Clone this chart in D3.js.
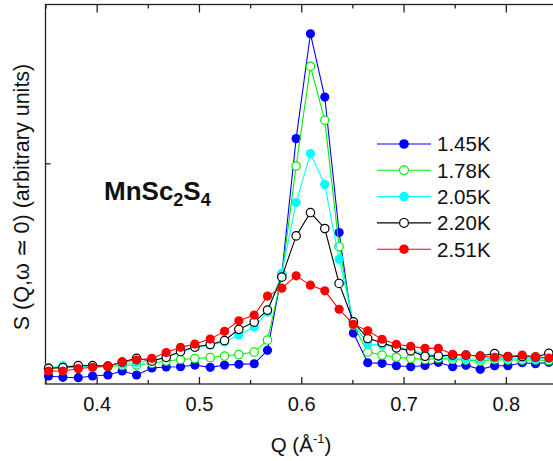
<!DOCTYPE html>
<html>
<head>
<meta charset="utf-8">
<script src="https://cdn.jsdelivr.net/npm/d3@7"></script>
<style>
  body { margin: 0; background: #fff; }
  svg { display: block; font-family: "Liberation Sans", Arial, sans-serif; }
</style>
</head>
<body>
<svg width="553" height="461"></svg>
<script>
// Q values (1/Angstrom)
var q = [0.353, 0.367, 0.382, 0.396, 0.411, 0.425, 0.439, 0.454, 0.468, 0.482, 0.496, 0.511,
         0.525, 0.539, 0.554, 0.567, 0.581, 0.595, 0.609, 0.623, 0.637, 0.651, 0.665, 0.679,
         0.693, 0.707, 0.721, 0.734, 0.748, 0.761, 0.775, 0.789, 0.802, 0.816, 0.829, 0.842];

// S(Q, w~0), arbitrary units
var s145 = [8, 6.7, 6.3, 8, 9, 13, 9, 16, 17, 17.3, 19, 16.7, 19, 19.7, 20.3, 33.7, 110, 245.7,
            350.7, 287.3, 151.7, 51, 21.3, 20.7, 18.3, 17.3, 18.5, 21.7, 17.3, 18.7, 14.7, 18.3,
            18.3, 21.3, 20.3, 21.7];
var s178 = [16, 16, 17, 17, 17.5, 18.5, 19, 20.7, 23, 24.5, 25.5, 26.5, 28, 29.5, 32, 44, 108,
            218.3, 318, 264, 137.5, 59, 32, 29, 26.8, 25.7, 24.5, 25.7, 24.5, 24, 23, 24.5, 24,
            24, 24, 23.5];
var s205 = [16, 18.3, 17.5, 17.5, 18, 20, 21.5, 23, 26.5, 32.5, 36.5, 39, 42, 49, 57, 72, 111,
            181.7, 230.7, 199.7, 125, 61.5, 39.7, 39, 37.3, 34, 30, 28, 26.5, 25.5, 24.5, 26,
            25.5, 26, 25, 25.5];
var s220 = [15.7, 16.5, 18.5, 18.5, 18, 22, 25.7, 23, 26.7, 32.5, 37, 39.5, 43.5, 54.7, 62, 74,
            107, 148.3, 171.7, 155.7, 100.7, 62.3, 45.5, 41.5, 36.2, 33.2, 27.7, 28.2, 29, 29,
            28, 30.5, 27.5, 27.5, 27, 30.7];
var s251 = [13, 13, 15.3, 16.7, 17.7, 22, 24, 25.7, 31.5, 36.7, 40, 45, 52.7, 63.3, 69, 88, 96,
            108.3, 99, 93.3, 74.8, 59.8, 53.2, 44.8, 39.8, 37.8, 35.7, 35.7, 29.8, 29, 27.7,
            26.8, 27.5, 29, 27.3, 26];

var labels = ["1.45K", "1.78K", "2.05K", "2.20K", "2.51K"];
var colors = ["#0000ff", "#00ee00", "#00ffff", "#000000", "#ff0000"];
var filled = [true, false, true, false, true];
var majorTicks = [0.4, 0.5, 0.6, 0.7, 0.8];
var minorTicks = [0.35, 0.45, 0.55, 0.65, 0.75, 0.85];

var svg = d3.select("svg");
var pLeft = 45.5, pTop = 4.5, pBottom = 384, pRight = 557;

var x = d3.scaleLinear().domain([0.35, 0.85]).range([pLeft, pRight]);
var y = d3.scaleLinear().domain([0, 380]).range([pBottom, pTop]);

var series = [s145, s178, s205, s220, s251].map(function(v, i) {
  return { label: labels[i], color: colors[i], filled: filled[i],
           pts: v.map(function(d, j) { return [q[j], d]; }) };
});

// frame
svg.append("rect")
    .attr("x", pLeft).attr("y", pTop)
    .attr("width", pRight - pLeft).attr("height", pBottom - pTop)
    .attr("fill", "none").attr("stroke", "#222").attr("stroke-width", 1.3);

// bottom axis, ticks inward
var xb = svg.append("g").attr("transform", "translate(0," + pBottom + ")")
    .call(d3.axisBottom(x).tickValues(majorTicks).tickSize(-7).tickPadding(13)
      .tickFormat(d3.format(".1f")));
svg.append("g").attr("transform", "translate(0," + pBottom + ")")
    .call(d3.axisBottom(x).tickValues(minorTicks).tickSize(-4).tickFormat(""));
// top axis
svg.append("g").attr("transform", "translate(0," + pTop + ")")
    .call(d3.axisTop(x).tickValues(majorTicks).tickSize(-8).tickFormat(""));
svg.append("g").attr("transform", "translate(0," + pTop + ")")
    .call(d3.axisTop(x).tickValues(minorTicks).tickSize(-4).tickFormat(""));
// left axis
svg.append("g").attr("transform", "translate(" + pLeft + ",0)")
    .call(d3.axisLeft(y).tickValues([221]).tickSize(-5).tickFormat(""));

svg.selectAll(".domain").remove();
svg.selectAll(".tick line").attr("stroke", "#222").attr("stroke-width", 1.3);
xb.selectAll(".tick text").attr("font-size", 20).attr("fill", "#111")
    .attr("font-family", "Liberation Sans, Arial, sans-serif");

// curves
var line = d3.line().x(function(d) { return x(d[0]); }).y(function(d) { return y(d[1]); });

series.forEach(function(s) {
  var g = svg.append("g");
  g.append("path").attr("d", line(s.pts))
      .attr("fill", "none").attr("stroke", s.color).attr("stroke-width", 1.1);
  g.selectAll("circle").data(s.pts).enter().append("circle")
      .attr("cx", function(d) { return x(d[0]); })
      .attr("cy", function(d) { return y(d[1]); })
      .attr("r", s.filled ? 4.6 : 4.2)
      .attr("fill", s.filled ? s.color : "#fff")
      .attr("stroke", s.color)
      .attr("stroke-width", s.filled ? 0 : 1.2);
});

// legend
var legend = svg.append("g").attr("transform", "translate(377,144)");
var row = legend.selectAll("g").data(series).enter().append("g")
    .attr("transform", function(d, i) { return "translate(0," + i * 26.3 + ")"; });
row.append("line").attr("x1", 0).attr("x2", 54).attr("y1", 0).attr("y2", 0)
    .attr("stroke", function(d) { return d.color; }).attr("stroke-width", 1.1);
row.append("circle").attr("cx", 27).attr("cy", 0)
    .attr("r", function(d) { return d.filled ? 4.8 : 4.4; })
    .attr("fill", function(d) { return d.filled ? d.color : "#fff"; })
    .attr("stroke", function(d) { return d.color; })
    .attr("stroke-width", function(d) { return d.filled ? 0 : 1.2; });
row.append("text").attr("x", 60).attr("y", 0).attr("dy", "0.36em")
    .attr("font-size", 20.5).attr("fill", "#111")
    .text(function(d) { return d.label; });

// compound label
var comp = svg.append("text").attr("x", 104).attr("y", 200)
    .attr("font-size", 26).attr("font-weight", "bold").attr("fill", "#111");
comp.append("tspan").text("MnSc");
comp.append("tspan").attr("font-size", 18).attr("dy", 6).text("2");
comp.append("tspan").attr("dy", -6).text("S");
comp.append("tspan").attr("font-size", 18).attr("dy", 6).text("4");

// axis titles
var xt = svg.append("text").attr("x", 301).attr("y", 452)
    .attr("text-anchor", "middle").attr("font-size", 20.5).attr("fill", "#111");
xt.append("tspan").text("Q (\u00c5");
xt.append("tspan").attr("font-size", 13).attr("dy", -9).text("-1");
xt.append("tspan").attr("dy", 9).text(")");

svg.append("text")
    .attr("transform", "translate(29,197) rotate(-90)")
    .attr("text-anchor", "middle").attr("font-size", 21.5).attr("fill", "#111")
    .text("S (Q,\u03c9 \u2243 0) (arbitrary units)");
</script>
</body>
</html>
